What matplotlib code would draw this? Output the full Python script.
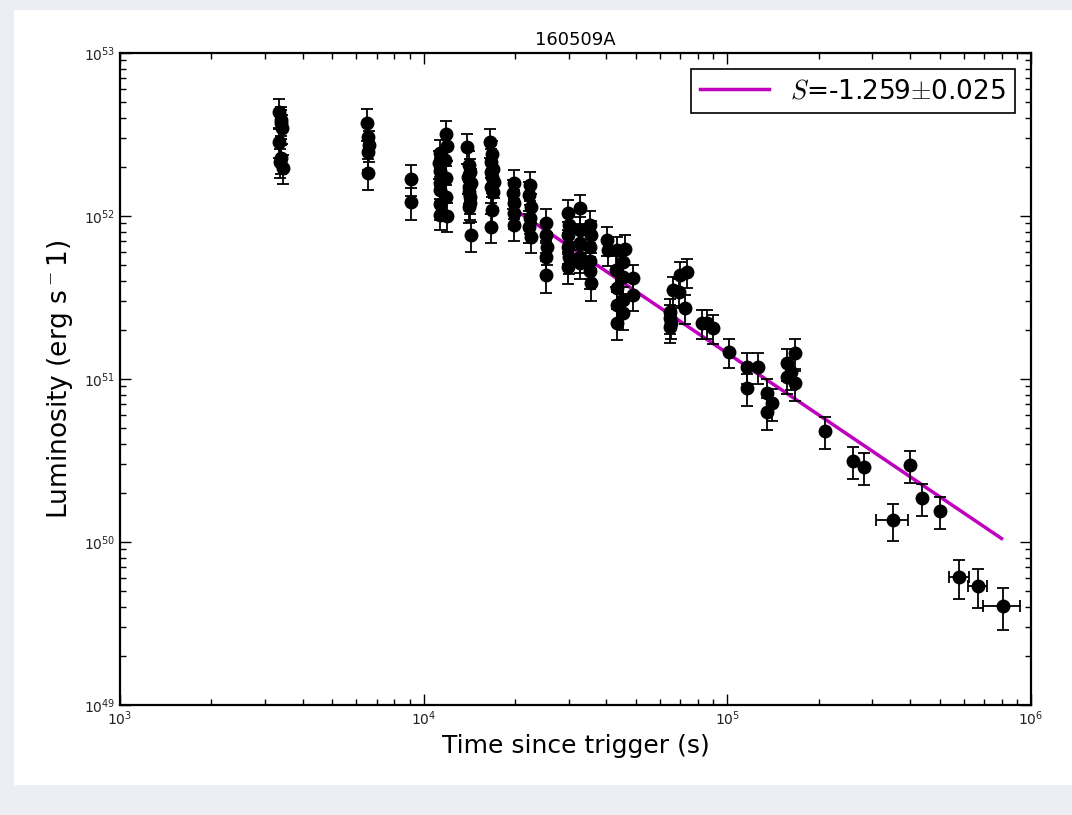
import matplotlib
matplotlib.use('Agg')
import matplotlib.pyplot as plt
from matplotlib.patches import Rectangle
import numpy as np

# time since trigger (s) and luminosity (erg/s)
t = [3350, 3380, 3420, 3330, 3400, 3360, 3440, 3390,
     6520, 6560, 6600, 6540, 6580,
     9050, 9100,
     11300, 11250, 11350, 11300, 11280, 11320, 11300,
     11850, 11900, 11800, 11880, 11850, 11900,
     13900, 14100, 14200, 14000, 14300, 14150, 14050, 14250, 14200, 14100, 14300,
     16500, 16800, 16700, 16900, 16600, 16800, 17000, 16700, 16900, 16800, 16600,
     19800, 19700, 19900, 19800, 19900,
     22400, 22300, 22500, 22400, 22300, 22500,
     25300, 25200, 25400, 25300, 25300,
     29800, 30000, 29900, 29800, 30000, 29900,
     32700, 32600, 32800, 32700, 32800,
     35300, 35500, 35200, 35400, 35300, 35600,
     40300, 40500,
     43300, 43100, 43400, 43200, 43300,
     45300, 45200, 45500, 45300, 46000,
     48900, 49000,
     64500, 64800, 65000, 64600, 66200, 69300, 69800, 73600, 72500,
     82400, 85700, 89700,
     101000,
     116000, 126000, 116000, 135000, 140000, 135000,
     157000, 167000, 157000, 167000, 162000,
     209000, 259000, 282000, 399000, 437000, 501000,
     351000, 580000, 668000, 808000]

L = [4.35e52, 3.88e52, 3.47e52, 2.85e52, 2.27e52, 2.14e52, 1.97e52, 3.7e52,
     3.72e52, 3.06e52, 2.73e52, 2.47e52, 1.84e52,
     1.69e52, 1.22e52,
     2.45e52, 2.1e52, 1.9e52, 1.6e52, 1.45e52, 1.18e52, 1.02e52,
     3.2e52, 2.7e52, 2.2e52, 1.7e52, 1.3e52, 1.0e52,
     2.65e52, 2.06e52, 1.85e52, 1.73e52, 1.6e52, 1.51e52, 1.4e52, 1.31e52, 1.2e52, 1.14e52, 7.64e51,
     2.85e52, 2.4e52, 2.14e52, 1.95e52, 1.86e52, 1.73e52, 1.62e52, 1.5e52, 1.4e52, 1.09e52, 8.57e51,
     1.59e52, 1.38e52, 1.2e52, 1.04e52, 8.81e51,
     1.55e52, 1.35e52, 1.14e52, 9.72e51, 8.57e51, 7.43e51,
     9.06e51, 7.64e51, 6.46e51, 5.6e51, 4.34e51,
     1.04e52, 8.81e51, 7.64e51, 6.46e51, 5.6e51, 4.86e51,
     1.12e52, 8.2e51, 6.83e51, 5.6e51, 5.15e51,
     8.81e51, 7.64e51, 6.46e51, 5.3e51, 4.6e51, 3.88e51,
     7.13e51, 6.18e51,
     6.18e51, 4.67e51, 3.62e51, 2.84e51, 2.21e51,
     5.22e51, 4.23e51, 3.05e51, 2.54e51, 6.3e51,
     4.17e51, 3.27e51,
     2.58e51, 2.37e51, 2.21e51, 2.09e51, 3.52e51, 3.42e51, 4.34e51, 4.53e51, 2.73e51,
     2.21e51, 2.21e51, 2.06e51,
     1.47e51,
     1.19e51, 1.19e51, 8.81e50, 8.2e50, 7.13e50, 6.28e50,
     1.25e51, 1.44e51, 1.03e51, 9.4e50, 1.1e51,
     4.80e50, 3.14e50, 2.88e50, 2.97e50, 1.86e50, 1.55e50,
     1.36e50, 6.10e49, 5.37e49, 4.04e49]

# fractional y errors per group
rel_err = ([0.2] * 8 + [0.22] * 5 + [0.22] * 2 + [0.2] * 13 + [0.21] * 11 +
           [0.2] * 11 + [0.2] * 5 + [0.2] * 6 + [0.22] * 5 + [0.21] * 6 +
           [0.2] * 5 + [0.22] * 6 + [0.2] * 2 + [0.21] * 5 + [0.21] * 5 +
           [0.2] * 2 + [0.2] * 9 + [0.2] * 3 + [0.2] + [0.22] * 6 +
           [0.22] * 5 + [0.22] * 6 + [0.25, 0.27, 0.27, 0.29])

# x half-widths, only the last four bins are wide enough to show
t_late = [351000, 580000, 668000, 808000]
L_late = [1.36e50, 6.10e49, 5.37e49, 4.04e49]
xerr_late = [42000, 44000, 48000, 112000]

# power-law fit
S = -1.259
S_err = 0.025
t_fit = [2.07e4, 8.0e5]
L_at_1e5 = 1.44e51

t = np.array(t)
L = np.array(L)
yerr = L * np.array(rel_err)

plt.rcParams['mathtext.fontset'] = 'cm'

fig = plt.figure(figsize=(10.72, 8.15), dpi=100)
fig.patch.set_facecolor('#eceef3')
fig.patches.append(Rectangle((14 / 1072, 30 / 815), 1, 775 / 815,
                             transform=fig.transFigure, facecolor='white',
                             edgecolor='none', zorder=-5))

ax = fig.add_axes([120 / 1072, 110 / 815, 911 / 1072, 652 / 815])

ax.errorbar(t, L, yerr=yerr, fmt='o', color='black', ms=9, elinewidth=1.3,
            capsize=4.5, capthick=1.3, zorder=3)
ax.errorbar(t_late, L_late, xerr=xerr_late, fmt='none', ecolor='black',
            elinewidth=1.3, capsize=4.5, capthick=1.3, zorder=3)

tf = np.array(t_fit)
ax.plot(tf, L_at_1e5 * (tf / 1e5) ** S, color=(0.75, 0, 0.75), lw=2.5,
        zorder=2, label=r'$S$=%.3f$\pm$%.3f' % (S, S_err))

ax.set_xscale('log')
ax.set_yscale('log')
ax.set_xlim(1e3, 1e6)
ax.set_ylim(1e49, 1e53)

ax.tick_params(which='both', direction='in', top=True, right=True,
               labelsize=10, labelcolor='#222222')
ax.tick_params(which='major', length=8, width=1)
ax.tick_params(which='minor', length=4, width=1)
for sp in ax.spines.values():
    sp.set_linewidth(1.6)

ax.set_title('160509A', fontsize=13)
ax.set_xlabel('Time since trigger (s)', fontsize=18)
ax.set_ylabel(r'Luminosity (erg s$^-$1)', fontsize=19, labelpad=6)

leg = ax.legend(loc='upper right', fontsize=19, fancybox=False, framealpha=1,
                edgecolor='black', handlelength=2.6, borderpad=0.35,
                borderaxespad=0.6)
leg.get_frame().set_linewidth(1.2)

fig.savefig('out.png', dpi=100, facecolor=fig.get_facecolor())
